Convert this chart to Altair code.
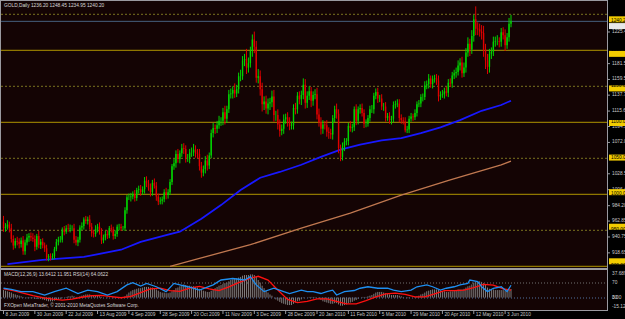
import altair as alt
import pandas as pd

# ---------------- data ----------------
first_open = 962.0
closes = [
    953, 955, 958, 953, 938, 929, 935, 934, 931, 936,
    921, 933, 940, 942, 940, 938, 927, 942, 930, 934,
    929, 925, 912, 914, 912, 914, 924, 934, 937, 937,
    951, 948, 953, 952, 953, 953, 937, 933, 937, 954,
    956, 965, 963, 965, 955, 946, 945, 952, 955, 948,
    936, 940, 945, 943, 953, 951, 942, 945, 955, 955,
    953, 953, 978, 996, 996, 997, 1000, 995, 1006, 1007,
    1003, 1007, 1019, 1015, 1009, 1003, 1016, 1012, 997, 990,
    991, 993, 1003, 999, 1003, 1017, 1039, 1043, 1056, 1049,
    1057, 1064, 1063, 1050, 1050, 1058, 1058, 1062, 1058, 1056,
    1039, 1030, 1035, 1047, 1040, 1054, 1085, 1092, 1091, 1096,
    1102, 1102, 1114, 1105, 1118, 1139, 1140, 1145, 1140, 1146,
    1164, 1164, 1186, 1188, 1176, 1182, 1199, 1215, 1205, 1162,
    1164, 1146, 1125, 1129, 1119, 1126, 1128, 1136, 1110, 1110,
    1097, 1088, 1091, 1104, 1107, 1101, 1095, 1096, 1120, 1118,
    1137, 1132, 1138, 1152, 1127, 1137, 1143, 1130, 1138, 1139,
    1111, 1100, 1091, 1097, 1096, 1087, 1085, 1083, 1106, 1118,
    1112, 1064, 1052, 1066, 1073, 1074, 1095, 1092, 1093, 1118,
    1102, 1118, 1120, 1113, 1098, 1098, 1106, 1118, 1118, 1137,
    1142, 1133, 1133, 1122, 1122, 1106, 1109, 1103, 1105, 1124,
    1125, 1126, 1106, 1103, 1101, 1089, 1090, 1105, 1108, 1107,
    1113, 1125, 1126, 1135, 1135, 1151, 1153, 1161, 1153, 1160,
    1161, 1158, 1136, 1138, 1139, 1143, 1141, 1155, 1154, 1165,
    1168, 1170, 1179, 1183, 1168, 1176, 1197, 1209, 1201, 1220,
    1243, 1230, 1229, 1226, 1224, 1201, 1186, 1177, 1195, 1198,
    1212, 1213, 1213, 1212, 1225, 1221, 1207, 1218, 1237, 1240.2,
]
wick_up = [
    8, 5, 6, 4, 6, 5, 4, 6, 5, 4,
    6, 4, 5, 4, 5, 6, 5, 3, 7, 4,
    5, 4, 5, 3, 4, 4, 3, 4, 4, 5,
    3, 5, 4, 6, 5, 4, 6, 5, 4, 3,
    5, 3, 5, 4, 6, 5, 4, 5, 4, 6,
    5, 4, 4, 5, 3, 5, 4, 5, 3, 4,
    4, 3, 4, 3, 5, 5, 4, 6, 3, 5,
    6, 4, 5, 6, 5, 6, 4, 6, 5, 4,
    5, 4, 4, 6, 4, 4, 3, 6, 5, 7,
    4, 6, 7, 5, 6, 5, 7, 8, 6, 5,
    7, 6, 5, 6, 8, 4, 5, 7, 5, 6,
    7, 5, 6, 9, 5, 6, 7, 5, 9, 6,
    5, 9, 6, 7, 14, 8, 6, 7, 11, 8,
    10, 8, 9, 7, 8, 7, 6, 8, 9, 6,
    8, 7, 6, 7, 5, 7, 6, 5, 5, 7,
    5, 6, 6, 9, 8, 6, 7, 6, 5, 7,
    9, 8, 7, 6, 5, 7, 6, 6, 4, 5,
    8, 6, 5, 6, 5, 4, 4, 7, 5, 4,
    7, 4, 5, 6, 5, 6, 4, 5, 6, 4,
    5, 6, 5, 6, 5, 6, 4, 5, 4, 5,
    5, 6, 6, 5, 4, 6, 5, 4, 5, 4,
    5, 4, 5, 4, 5, 6, 5, 6, 4, 5,
    5, 6, 7, 5, 6, 5, 6, 5, 6, 5,
    5, 6, 7, 6, 8, 7, 6, 9, 7, 8,
    6, 18, 9, 8, 9, 10, 8, 9, 7, 6,
    7, 6, 8, 5, 6, 7, 8, 6, 8, 9,
]
wick_dn = [
    5, 5, 4, 6, 5, 6, 4, 5, 6, 5,
    5, 5, 4, 6, 5, 4, 6, 4, 5, 6,
    4, 5, 4, 5, 4, 3, 4, 3, 5, 4,
    4, 5, 3, 4, 5, 4, 5, 4, 5, 4,
    4, 5, 4, 5, 4, 5, 5, 4, 5, 4,
    5, 4, 4, 5, 4, 4, 5, 4, 4, 5,
    4, 3, 4, 5, 4, 6, 4, 5, 4, 5,
    5, 4, 6, 5, 4, 6, 5, 4, 6, 5,
    4, 5, 4, 6, 5, 4, 4, 5, 6, 5,
    6, 5, 7, 6, 5, 7, 6, 5, 7, 6,
    6, 7, 5, 6, 7, 5, 4, 6, 7, 6,
    5, 7, 6, 8, 6, 5, 6, 7, 6, 5,
    6, 7, 5, 8, 9, 7, 6, 8, 9, 7,
    8, 9, 10, 8, 7, 8, 9, 7, 9, 8,
    7, 8, 6, 7, 6, 7, 6, 5, 6, 7,
    6, 7, 8, 6, 8, 7, 6, 9, 7, 6,
    7, 6, 8, 7, 6, 7, 8, 6, 7, 6,
    7, 7, 6, 5, 6, 5, 6, 5, 6, 5,
    6, 5, 6, 5, 6, 5, 4, 5, 5, 6,
    5, 6, 5, 5, 6, 5, 4, 5, 6, 5,
    5, 4, 6, 5, 4, 3, 4, 5, 4, 5,
    4, 5, 4, 5, 6, 4, 5, 6, 5, 6,
    5, 6, 7, 5, 4, 6, 5, 6, 5, 6,
    5, 6, 5, 7, 6, 5, 7, 6, 9, 6,
    8, 9, 8, 7, 9, 10, 12, 10, 8, 7,
    6, 7, 6, 8, 7, 6, 8, 5, 6, 5,
]

ma_blue_idx = [2, 20, 41, 60, 70, 84, 90, 101, 111, 121, 131, 141, 152, 162,
               172, 182, 193, 203, 213, 223, 233, 244, 254, 259]
ma_blue_val = [903, 909, 913, 923, 934, 944, 948, 966, 985, 1006, 1023, 1031,
               1041, 1052, 1062, 1069, 1075, 1078, 1085, 1093, 1103, 1116, 1124, 1130]
ma_orange_idx = [85, 100, 126, 152, 177, 203, 228, 254, 259]
ma_orange_val = [900, 911, 930, 953, 974, 999, 1020, 1041, 1046]

macd_main = [
    12, 11, 10, 9, 8, 6, 5, 4, 3, 2,
    1, 0, -1, -1, -1, -1, -2, -2, -2, -2,
    -3, -4, -5, -6, -6, -6, -5, -4, -3, -2,
    -1, 0, 1, 2, 2, 3, 2, 1, 1, 2,
    3, 4, 5, 5, 5, 4, 3, 3, 3, 2,
    1, 0, 0, -1, 0, 0, -1, -1, 0, 0,
    0, 0, 2, 5, 8, 10, 12, 13, 14, 15,
    15, 16, 17, 17, 17, 16, 16, 15, 13, 11,
    9, 8, 8, 7, 7, 8, 10, 12, 15, 16,
    18, 20, 21, 20, 19, 19, 18, 18, 17, 16,
    14, 12, 11, 10, 9, 9, 11, 13, 15, 17,
    19, 20, 22, 23, 24, 26, 28, 29, 30, 31,
    32, 33, 35, 36, 36, 36, 37, 37, 36, 33,
    28, 24, 19, 15, 11, 8, 5, 3, 0, -3,
    -5, -7, -9, -10, -11, -12, -12, -12, -10, -8,
    -6, -5, -3, -1, 0, 0, 1, 1, 1, 1,
    0, -2, -4, -6, -7, -8, -9, -10, -10, -9,
    -9, -11, -13, -13, -12, -11, -9, -8, -7, -5,
    -4, -2, 0, 1, 1, 1, 2, 3, 4, 6,
    8, 9, 9, 9, 8, 7, 6, 5, 4, 4,
    4, 4, 3, 2, 1, 0, -1, -1, 0, 0,
    1, 2, 3, 5, 6, 8, 10, 11, 12, 13,
    13, 13, 12, 11, 10, 10, 9, 9, 10, 10,
    11, 12, 13, 13, 13, 14, 16, 18, 19, 21,
    24, 25, 26, 26, 25, 23, 20, 16, 14, 13,
    13, 12, 12, 12, 12, 12, 11, 11, 12, 13.6,
]
signal_idx = [0, 5, 10, 15, 20, 25, 30, 35, 40, 45, 50, 55, 60, 65, 70, 75, 80,
              85, 90, 95, 100, 105, 110, 115, 120, 125, 130, 135, 140, 145, 150,
              155, 160, 165, 170, 175, 180, 185, 190, 195, 200, 205, 210, 215,
              220, 225, 230, 235, 240, 245, 250, 255, 259]
signal_val = [14, 11, 7, 3, 0, -2.5, -4, -2.5, 0.5, 3, 3.5, 1.5, -0.3, 2, 8, 14,
              15, 11, 10, 15, 18, 14, 11, 17, 24, 30, 34, 28, 12, -3, -8, -6, -2,
              -2, -6, -10, -10, -5, 1, 6, 7, 5, 1, 1, 6, 11, 11, 12, 16, 21, 20,
              14, 12]
rsi_idx = [0, 4, 9, 15, 21, 26, 32, 38, 43, 48, 53, 58, 63, 66, 70, 73, 78, 83,
           87, 90, 94, 100, 107, 111, 117, 123, 126, 129, 133, 138, 143, 146,
           152, 155, 158, 162, 165, 168, 170, 174, 179, 182, 186, 191, 196, 199,
           203, 208, 211, 216, 219, 223, 226, 230, 233, 237, 238, 242, 244, 247,
           250, 254, 257, 259]
rsi_val = [56, 53, 47, 47, 38, 47, 56, 42, 51, 47, 38, 47, 65, 71, 62, 69, 60, 47,
           69, 65, 60, 51, 65, 78, 82, 78, 87, 65, 47, 56, 47, 42, 51, 47, 47, 42,
           47, 51, 38, 47, 50, 56, 60, 56, 56, 51, 47, 51, 60, 65, 60, 51, 56, 60,
           65, 69, 78, 74, 60, 47, 56, 60, 47, 64]

solid_levels = [900, 1000, 1100, 1200]
dotted_levels = [950, 1050, 1150, 1250]
level_labels = ["900.00", "1000.00", "1100.00", "1200.00"]
dotted_labels = ["950.00", "1050.00", "1150.00", "1250.00"]
bid_price = 1240.20
price_ticks = [918.65, 940.75, 962.85, 984.20, 1006.40, 1028.50, 1072.05,
               1094.15, 1115.60, 1137.70, 1159.50, 1181.50, 1225.45]
date_idx = [0, 16, 32, 48, 64, 80, 96, 112, 128, 144, 160, 176, 192, 208, 224, 240, 256]
date_labels = ["8 Jun 2009", "30 Jun 2009", "22 Jul 2009", "13 Aug 2009", "4 Sep 2009",
               "28 Sep 2009", "20 Oct 2009", "11 Nov 2009", "3 Dec 2009", "28 Dec 2009",
               "20 Jan 2010", "11 Feb 2010", "5 Mar 2010", "29 Mar 2010", "20 Apr 2010",
               "12 May 2010", "3 Jun 2010"]
title_text = "GOLD,Daily  1236.20 1248.45 1234.95 1240.20"
ind_text = "MACD(12,26,9) 13.6412 11.951  RSI(14) 64.0622"
copy_text = "FXOpen MetaTrader, \u00a9 2001-2010 MetaQuotes Software Corp."

# ---------------- tables ----------------
opens = [first_open] + closes[:-1]
rows = []
for i, (o, c, wu, wd) in enumerate(zip(opens, closes, wick_up, wick_dn)):
    rows.append({"i": i, "open": o, "close": c,
                 "high": max(o, c) + wu, "low": min(o, c) - wd,
                 "up": c >= o})
cdf = pd.DataFrame(rows)
up_df = cdf[cdf["up"]]
dn_df = cdf[~cdf["up"]]

FONT = "Liberation Sans"
FS = 4.8
XR = [3.5, 511.0]
xs = alt.Scale(domain=[0, 259], range=XR, nice=False, zero=False)
ps = alt.Scale(domain=[900, 1250], range=[266.3, 14.3], nice=False, zero=False)
ms = alt.Scale(domain=[-15.121, 37.689], range=[307.0, 274.0], nice=False, zero=False)
rs = alt.Scale(domain=[30, 70], range=[298.0, 283.0], nice=False, zero=False)

one = alt.Data(values=[{"a": 1}])


def X(f="i"):
    return alt.X(f"{f}:Q", scale=xs, axis=None)


def PY(f, scale=ps):
    return alt.Y(f"{f}:Q", scale=scale, axis=None)


def PY2(f):
    return alt.Y2(f"{f}:Q")


layers = []

# panel backgrounds
layers.append(alt.Chart(one).mark_rect(color="#140404").encode(
    x=alt.value(1), x2=alt.value(607), y=alt.value(1), y2=alt.value(268)))
layers.append(alt.Chart(one).mark_rect(color="#140404").encode(
    x=alt.value(1), x2=alt.value(607), y=alt.value(270), y2=alt.value(310)))

# level lines
lv = pd.DataFrame({"p": solid_levels, "t": level_labels})
dv = pd.DataFrame({"p": dotted_levels, "t": dotted_labels})
layers.append(alt.Chart(lv).mark_rule(color="#8f7700", strokeWidth=1.3).encode(
    y=PY("p"), x=alt.value(1), x2=alt.value(607)))
layers.append(alt.Chart(dv).mark_rule(color="#7a7420", strokeWidth=1, strokeDash=[2, 2]).encode(
    y=PY("p"), x=alt.value(1), x2=alt.value(607)))

# bid line
bd = pd.DataFrame({"p": [bid_price], "t": [f"{bid_price:.2f}"]})
layers.append(alt.Chart(bd).mark_rule(color="#45607e", strokeWidth=1).encode(
    y=PY("p"), x=alt.value(1), x2=alt.value(607)))

# moving averages
mab = pd.DataFrame({"i": ma_blue_idx, "v": ma_blue_val})
mao = pd.DataFrame({"i": ma_orange_idx, "v": ma_orange_val})
layers.append(alt.Chart(mao).mark_line(color="#c07850", strokeWidth=1.3).encode(
    x=X(), y=PY("v")))
layers.append(alt.Chart(mab).mark_line(color="#1818ff", strokeWidth=1.8).encode(
    x=X(), y=PY("v")))

# candles
for d, col in ((up_df, "#00d400"), (dn_df, "#e00000")):
    layers.append(alt.Chart(d).mark_rule(color=col, strokeWidth=1).encode(
        x=X(), y=PY("low"), y2=PY2("high")))
    layers.append(alt.Chart(d).mark_rule(color=col, strokeWidth=1.4).encode(
        x=X(), y=PY("open"), y2=PY2("close")))

# indicator window
mdf = pd.DataFrame({"i": list(range(len(macd_main))), "m": macd_main, "z": 0})
layers.append(alt.Chart(mdf).mark_rule(color="#9a9a9a", strokeWidth=0.8).encode(
    x=X(), y=PY("z", ms), y2=PY2("m")))
rl = pd.DataFrame({"r": [70], "c": ["a"]})
layers.append(alt.Chart(rl).mark_rule(color="#707070", strokeWidth=1, strokeDash=[1, 2]).encode(
    y=PY("r", rs), x=alt.value(1), x2=alt.value(607)))
rl2 = pd.DataFrame({"r": [30]})
layers.append(alt.Chart(rl2).mark_rule(color="#5070a0", strokeWidth=1, strokeDash=[1, 2]).encode(
    y=PY("r", rs), x=alt.value(1), x2=alt.value(607)))
sdf = pd.DataFrame({"i": signal_idx, "v": signal_val})
layers.append(alt.Chart(sdf).mark_line(color="#ff1010", strokeWidth=1.3).encode(
    x=X(), y=PY("v", ms)))
rdf = pd.DataFrame({"i": rsi_idx, "v": rsi_val})
layers.append(alt.Chart(rdf).mark_line(color="#1e8ff0", strokeWidth=1.3).encode(
    x=X(), y=PY("v", rs)))

# frame
FR = "#9a9aa0"
layers.append(alt.Chart(one).mark_rule(color=FR, strokeWidth=1).encode(
    x=alt.value(607.5), y=alt.value(0), y2=alt.value(311)))
layers.append(alt.Chart(one).mark_rule(color=FR, strokeWidth=1).encode(
    x=alt.value(0.5), y=alt.value(0), y2=alt.value(311)))
layers.append(alt.Chart(one).mark_rule(color=FR, strokeWidth=1).encode(
    y=alt.value(0.5), x=alt.value(0), x2=alt.value(608)))
layers.append(alt.Chart(one).mark_rule(color=FR, strokeWidth=2).encode(
    y=alt.value(269), x=alt.value(0), x2=alt.value(608)))
layers.append(alt.Chart(one).mark_rule(color=FR, strokeWidth=1).encode(
    y=alt.value(310.5), x=alt.value(0), x2=alt.value(608)))

# right price scale
tk = pd.DataFrame({"p": price_ticks, "t": [f"{v:.2f}" for v in price_ticks]})
layers.append(alt.Chart(tk).mark_rule(color=FR, strokeWidth=1).encode(
    y=PY("p"), x=alt.value(607), x2=alt.value(610)))
layers.append(alt.Chart(tk).mark_text(align="left", baseline="middle", font=FONT,
                                      fontSize=FS, color="#c8c8c8").encode(
    y=PY("p"), x=alt.value(612), text="t:N"))
allv = pd.concat([lv, dv])
layers.append(alt.Chart(allv).mark_bar(color="#f2cc00", size=6, orient="horizontal").encode(
    y=PY("p"), x=alt.value(609), x2=alt.value(640)))
layers.append(alt.Chart(allv).mark_text(align="left", baseline="middle", font=FONT,
                                        fontSize=FS, color="#000000").encode(
    y=PY("p"), x=alt.value(611), text="t:N"))
layers.append(alt.Chart(bd).mark_bar(color="#e8e8e8", size=6, orient="horizontal").encode(
    y=PY("p"), x=alt.value(609), x2=alt.value(640)))
layers.append(alt.Chart(bd).mark_text(align="left", baseline="middle", font=FONT,
                                      fontSize=FS, color="#000000").encode(
    y=PY("p"), x=alt.value(611), text="t:N"))

# indicator scale labels
mt = pd.DataFrame({"v": [37.689, 0.0, -15.121], "t": ["37.689", "0.00", "-15.121"]})
rt = pd.DataFrame({"v": [70, 30], "t": ["70", "30"]})
layers.append(alt.Chart(mt).mark_text(align="left", baseline="middle", font=FONT,
                                      fontSize=FS, color="#c8c8c8").encode(
    y=PY("v", ms), x=alt.value(612), text="t:N"))
layers.append(alt.Chart(rt).mark_text(align="left", baseline="middle", font=FONT,
                                      fontSize=FS, color="#c8c8c8").encode(
    y=PY("v", rs), x=alt.value(612), text="t:N"))

# date axis
dd = pd.DataFrame({"i": date_idx, "t": date_labels})
layers.append(alt.Chart(dd).mark_rule(color=FR, strokeWidth=1).encode(
    x=X(), y=alt.value(311), y2=alt.value(314)))
layers.append(alt.Chart(dd).mark_text(align="left", baseline="middle", font=FONT,
                                      fontSize=FS, color="#c8c8c8", dx=2).encode(
    x=X(), y=alt.value(314.5), text="t:N"))

# captions
caps = pd.DataFrame({"t": [title_text, ind_text, copy_text], "yy": [6, 275, 305.5]})
for t, yy in zip(caps["t"], caps["yy"]):
    layers.append(alt.Chart(one).mark_text(align="left", baseline="middle", font=FONT,
                                           fontSize=FS, color="#d8d8d8", text=t).encode(
        x=alt.value(4), y=alt.value(yy)))

chart = alt.layer(*layers).resolve_scale(y="independent").properties(
    width=625, height=319,
    autosize=alt.AutoSizeParams(type="none"),
    padding=0,
).configure(background="#000000").configure_view(stroke=None)

chart.save("out.html", embed_options={"renderer": "svg", "actions": False})
